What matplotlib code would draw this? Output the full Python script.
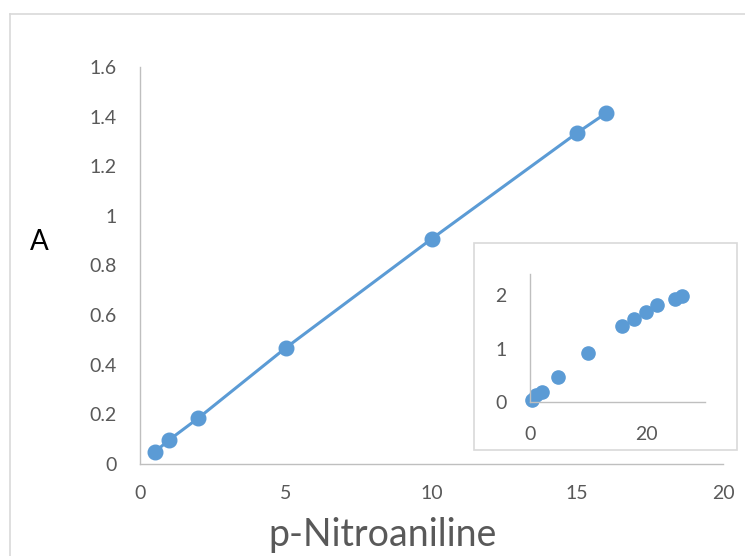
import matplotlib.pyplot as plt
from matplotlib.lines import Line2D
from matplotlib.patches import Rectangle

# DATI
conc = [0.5, 1, 2, 5, 10, 15, 16]
absorb = [0.048, 0.097, 0.185, 0.468, 0.907, 1.335, 1.415]

inset_conc = [0.3, 1.1, 2, 4.8, 9.9, 15.8, 17.8, 19.9, 21.8, 24.8, 26]
inset_absorb = [0.04, 0.13, 0.19, 0.46, 0.91, 1.42, 1.56, 1.69, 1.81, 1.93, 1.99]

x_ticks = [0, 5, 10, 15, 20]
y_ticks = [0, 0.2, 0.4, 0.6, 0.8, 1, 1.2, 1.4, 1.6]
y_ticklabels = ["0", "0.2", "0.4", "0.6", "0.8", "1", "1.2", "1.4", "1.6"]

BLUE = "#5B9BD5"
AXIS_GREY = "#BFBFBF"
TEXT_GREY = "#595959"
FONT = "Lato"

plt.rcParams['font.family'] = [FONT, 'DejaVu Sans']

fig = plt.figure(figsize=(7.45, 5.56), dpi=100)

# bordo esterno del grafico
fig.add_artist(Line2D([10/745, 10/745], [0, 1 - 14/556], transform=fig.transFigure,
                      color="#D9D9D9", lw=1.2))
fig.add_artist(Line2D([10/745, 1], [1 - 14/556, 1 - 14/556], transform=fig.transFigure,
                      color="#D9D9D9", lw=1.2))

# =================== grafico principale ===================
ax = fig.add_axes([140/745, 1 - 464/556, 583/745, 397/556])
ax.plot(conc, absorb, color=BLUE, lw=2.2, marker="o", markersize=10.5,
        markerfacecolor=BLUE, markeredgecolor=BLUE, zorder=3)
ax.set_xlim(0, 20)
ax.set_ylim(0, 1.6)
ax.set_xticks(x_ticks)
ax.set_yticks(y_ticks)
ax.set_yticklabels(y_ticklabels)
for s in ["top", "right"]:
    ax.spines[s].set_visible(False)
for s in ["left", "bottom"]:
    ax.spines[s].set_color(AXIS_GREY)
    ax.spines[s].set_linewidth(1.0)
ax.tick_params(axis="both", length=0, labelsize=14, labelcolor=TEXT_GREY)
ax.tick_params(axis="y", pad=17)
ax.tick_params(axis="x", pad=15)

fig.text(383/745, 1 - 535/556, "p-Nitroaniline", fontsize=27, color=TEXT_GREY,
         ha="center", va="center")
fig.text(39/745, 1 - 242/556, "A", fontsize=20, color="black",
         ha="center", va="center")

# =================== riquadro inserito ===================
fig.add_artist(Rectangle((474/745, 1 - 450/556), 263/745, 207/556,
                         transform=fig.transFigure, facecolor="white",
                         edgecolor="#D9D9D9", lw=1.2, zorder=5))

axi = fig.add_axes([530/745, 1 - 402/556, 175/745, 128/556], zorder=6)
axi.patch.set_alpha(0)
axi.plot(inset_conc, inset_absorb, linestyle="none", marker="o", markersize=9.5,
         color=BLUE, clip_on=False)
axi.set_xlim(0, 30)
axi.set_ylim(0, 2.4)
axi.set_xticks([0, 20])
axi.set_yticks([0, 1, 2])
for s in ["top", "right"]:
    axi.spines[s].set_visible(False)
for s in ["left", "bottom"]:
    axi.spines[s].set_color(AXIS_GREY)
    axi.spines[s].set_linewidth(1.0)
axi.tick_params(axis="both", length=0, labelsize=14, labelcolor=TEXT_GREY)
axi.tick_params(axis="y", pad=17)
axi.tick_params(axis="x", pad=17)

fig.savefig("out.png", dpi=100)
